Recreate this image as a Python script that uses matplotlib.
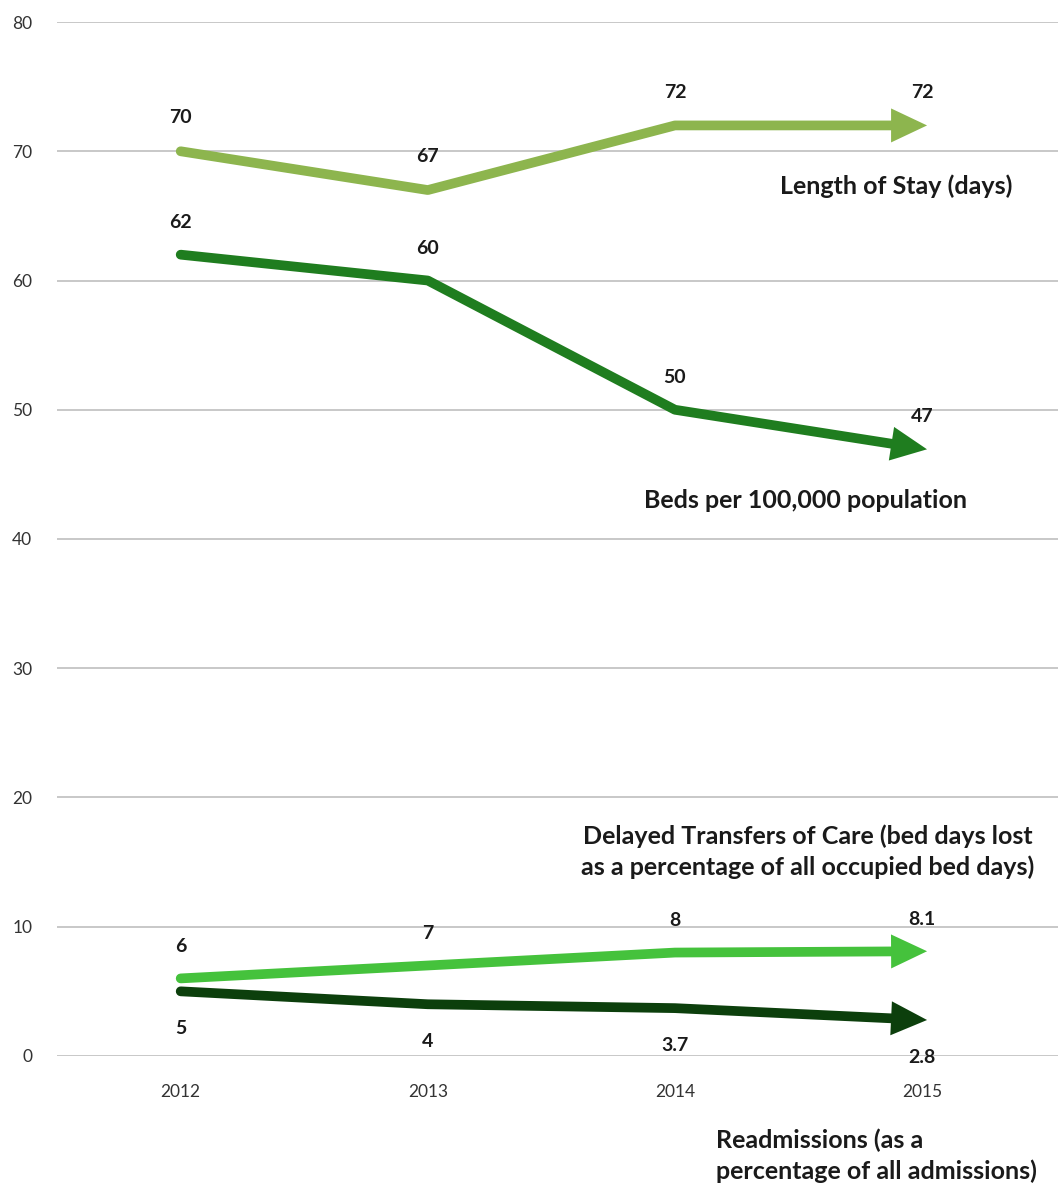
import numpy as np
import matplotlib.pyplot as plt

years = ['2012', '2013', '2014', '2015']
los = [70, 67, 72, 72]           # length of stay (days)
beds = [62, 60, 50, 47]          # beds per 100,000 population
dtoc = [6, 7, 8, 8.1]            # delayed transfers of care
readm = [5, 4, 3.7, 2.8]         # readmissions
los_lbl = ['70', '67', '72', '72']
beds_lbl = ['62', '60', '50', '47']
dtoc_lbl = ['6', '7', '8', '8.1']
readm_lbl = ['5', '4', '3.7', '2.8']

plt.rcParams['font.family'] = ['Lato', 'DejaVu Sans']

fig = plt.figure(figsize=(10.58, 11.85), dpi=100)
ax = fig.add_axes([0.054, 0.1089, 0.946, 0.8725])
x = np.arange(len(years))

ax.set_ylim(0, 80)
ax.set_xlim(-0.5, 3.55)

def arrow_line(vals, color, head_len=36, head_w=17, lw=7):
    # work in pixels so the arrow head keeps its shape
    pts = ax.transData.transform(np.column_stack([x, vals]).astype(float))
    d = pts[-1] - pts[-2]
    u = d / np.hypot(*d)
    n = np.array([-u[1], u[0]])
    tip = pts[-1] + u * 5
    base = tip - u * head_len
    inv = ax.transData.inverted()
    shaft = inv.transform(np.vstack([pts[:-1], base + u * 2]))
    ax.plot(shaft[:, 0], shaft[:, 1], color=color, lw=lw, solid_capstyle='round',
            solid_joinstyle='round', zorder=3)
    tri = inv.transform(np.array([tip, base + n * head_w, base - n * head_w]))
    ax.fill(tri[:, 0], tri[:, 1], color=color, lw=0, zorder=3)

arrow_line(los, '#8db54e')
arrow_line(beds, '#1f7d1f')
arrow_line(dtoc, '#45c23c')
arrow_line(readm, '#0c3f0c')

def labels(vals, txt, dy):
    for xi, v, t in zip(x, vals, txt):
        ax.annotate(t, (xi, v), xytext=(0, dy), textcoords='offset points',
                    ha='center', va='center', fontsize=14, fontweight='bold',
                    color='#1a1a1a')

labels(los, los_lbl, 24)
labels(beds, beds_lbl, 23)
labels(dtoc, dtoc_lbl, 23)
labels(readm, readm_lbl, -27)

ax.set_yticks(range(0, 81, 10))
ax.set_xticks(x)
ax.set_xticklabels(years)
ax.grid(axis='y', color='#bfbfbf', lw=1.2)
ax.set_axisbelow(True)
for s in ax.spines.values():
    s.set_visible(False)
ax.tick_params(length=0, labelsize=12.5, colors='#333333')
ax.tick_params(axis='y', pad=18)
ax.tick_params(axis='x', pad=20)

# series names
kw = dict(fontsize=18, fontweight='bold', color='#1a1a1a')
fig.text(896/1058, 1-186/1185, 'Length of Stay (days)', ha='center', va='center', **kw)
fig.text(806/1058, 1-500/1185, 'Beds per 100,000 population', ha='center', va='center', **kw)
fig.text(808/1058, 1-852/1185, 'Delayed Transfers of Care (bed days lost\nas a percentage of all occupied bed days)',
         ha='center', va='center', linespacing=1.4, **kw)
fig.text(716/1058, 1-1156/1185, 'Readmissions (as a\npercentage of all admissions)',
         ha='left', va='center', linespacing=1.35, **kw)

plt.savefig('out.png', dpi=100)
